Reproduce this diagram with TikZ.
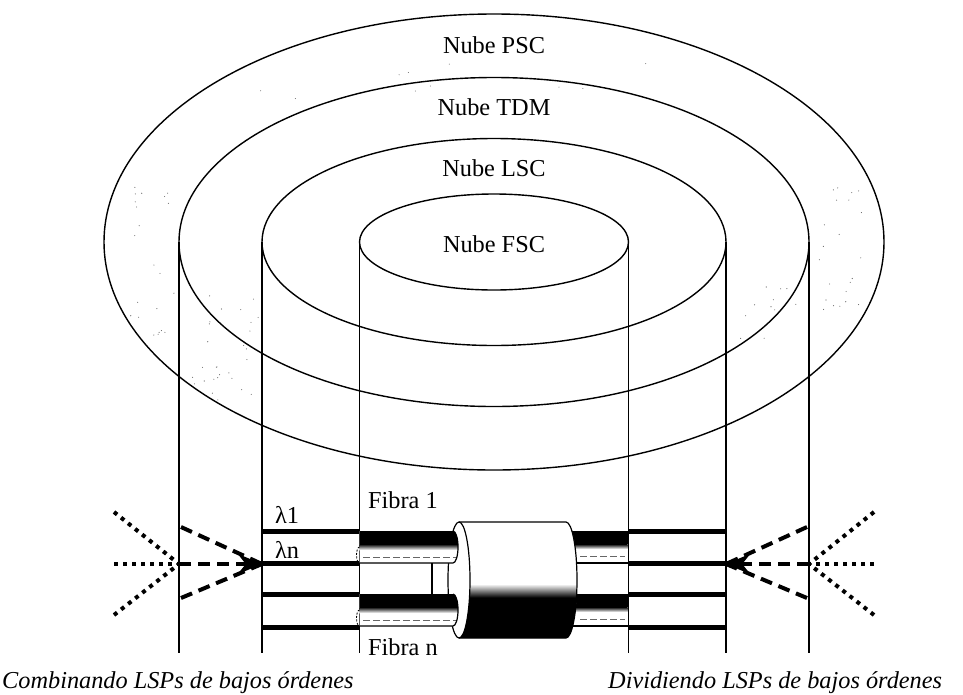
\documentclass[tikz,border=0pt]{standalone}
\usepackage{fontspec}
\setmainfont{Liberation Serif}
\usetikzlibrary{arrows.meta}

\begin{document}
\begin{tikzpicture}[x=1pt,y=-1pt,
  cloud/.style={line width=1.4pt},
  wall/.style={line width=1.8pt},
  lambdaline/.style={line width=5pt},
  edge/.style={line width=1.2pt},
  lspdash/.style={line width=4pt, dash pattern=on 12pt off 7pt},
  lspdot/.style={line width=4pt, dash pattern=on 4pt off 5pt},
  txt/.style={font=\fontsize{24.3}{28}\selectfont, inner sep=0pt},
  cloudtxt/.style={txt, anchor=base},
  tag/.style={txt, anchor=base west},
  note/.style={txt, anchor=base west, font=\fontsize{24.3}{28}\selectfont\itshape},
  speck/.style={fill=black!60},
]
\useasboundingbox (0,0) rectangle (963,694);

% common centre of the nested clouds
\coordinate (c) at (494,242);

% faint speckle inside the outer rings
\pgfmathsetseed{17}
\foreach \i in {1,...,22} {\fill[speck] ({130+45*rnd},{180+160*rnd}) circle[radius=0.55];}
\foreach \i in {1,...,28} {\fill[speck] ({190+70*rnd},{290+110*rnd}) circle[radius=0.55];}
\foreach \i in {1,...,22} {\fill[speck] ({815+50*rnd},{180+140*rnd}) circle[radius=0.55];}
\foreach \i in {1,...,12} {\fill[speck] ({740+60*rnd},{285+60*rnd}) circle[radius=0.55];}
\foreach \i in {1,...,10} {\fill[speck] ({250+400*rnd},{60+40*rnd}) circle[radius=0.5];}

% the four clouds
\draw[cloud] (c) ellipse[x radius=390, y radius=228];
\draw[cloud] (c) ellipse[x radius=315, y radius=164.5];
\draw[cloud] (c) ellipse[x radius=232, y radius=103.5];
\draw[cloud] (c) ellipse[x radius=134.5, y radius=48];

% cylinder walls of TDM, LSC and FSC
\foreach \x in {179,262,359.5,628.5,726,809}
  \draw[wall] (\x,242) -- (\x,653);

% wavelength lines on both sides
\foreach \y in {531,563,594,627} {
  \draw[lambdaline] (262,\y) -- (359.5,\y);
  \draw[lambdaline] (628.5,\y) -- (726,\y);
}

% fibre ends leaving the connector on the right
\foreach \t in {531,594} {
  \fill[white] (570,\t) rectangle (627.5,\t+32);
  \fill[black] (570,\t) rectangle (627.5,\t+13);
  \shade[top color=black, bottom color=white] (570,\t+13) rectangle (627.5,\t+18);
  \draw[black!60, line width=0.8pt, dash pattern=on 7pt off 3pt] (580,\t+25) -- (625,\t+25);
  \draw[edge] (570,\t+32) -- (627.5,\t+32);
}

% connector sleeve
\fill[white] (459,522) -- (566,522) arc[start angle=-90, end angle=90, x radius=11, y radius=58]
  -- (459,638) arc[start angle=90, end angle=270, x radius=11, y radius=58] -- cycle;
\begin{scope}
  \clip (459,522) -- (566,522) arc[start angle=-90, end angle=90, x radius=11, y radius=58]
    -- (459,638) arc[start angle=90, end angle=-90, x radius=11, y radius=58] -- cycle;
  \fill[black] (440,597) rectangle (590,645);
  \shade[top color=white, bottom color=black] (440,584) rectangle (590,597.5);
\end{scope}
\draw[edge] (459,522) -- (566,522) arc[start angle=-90, end angle=90, x radius=11, y radius=58]
  -- (459,638);
\draw[edge] (459,580) ellipse[x radius=11, y radius=58];

% fibres 1 and n entering the sleeve
\foreach \t in {531,594} {
  \begin{scope}
    \clip (359.5,\t) -- (453,\t) arc[start angle=-90, end angle=90, x radius=5, y radius=16]
      -- (359.5,\t+32) -- cycle;
    \fill[white] (350,\t-2) rectangle (465,\t+34);
    \fill[black] (350,\t-2) rectangle (465,\t+13);
    \shade[top color=black, bottom color=white] (350,\t+13) rectangle (465,\t+19);
    \draw[black!60, line width=0.8pt, dash pattern=on 7pt off 3pt] (363,\t+26) -- (458,\t+26);
  \end{scope}
  \draw[edge] (359.5,\t+32) -- (453,\t+32) arc[start angle=90, end angle=-90, x radius=5, y radius=16];
  \draw[line width=0.8pt, dash pattern=on 2pt off 1.5pt]
    (359.5,\t+16) arc[start angle=-90, end angle=-270, x radius=3, y radius=8];
}
\draw[edge] (432,563) -- (432,594);

% combining lower-order LSPs (left)
\coordinate (Lo1) at (114,512);
\coordinate (Lo2) at (114,564);
\coordinate (Lo3) at (114,615);
\coordinate (Lhub) at (179,564);
\coordinate (Ldu) at (181,527);
\coordinate (Ldd) at (181,598);
\coordinate (Ltip) at (262,564);
\draw[lspdot] (Lo1) -- (Lhub);
\draw[lspdot] (Lo2) -- (Lhub);
\draw[lspdot] (Lo3) -- (Lhub);
\draw[lspdash] (Ldu) -- (Ltip);
\draw[lspdash] (Ldd) -- (Ltip);
\draw[lspdash, -{Stealth[length=24pt, width=20pt]}] (Lhub) -- (Ltip);

% splitting lower-order LSPs (right)
\coordinate (Ro1) at (874,512);
\coordinate (Ro2) at (874,564);
\coordinate (Ro3) at (874,615);
\coordinate (Rhub) at (809,564);
\coordinate (Rdu) at (807,527);
\coordinate (Rdd) at (807,598);
\coordinate (Rtip) at (726,564);
\draw[lspdot] (Ro1) -- (Rhub);
\draw[lspdot] (Ro2) -- (Rhub);
\draw[lspdot] (Ro3) -- (Rhub);
\draw[lspdash] (Rdu) -- (Rtip);
\draw[lspdash] (Rdd) -- (Rtip);
\draw[lspdash, -{Stealth[length=24pt, width=20pt]}] (Rhub) -- (Rtip);

% labels
\node[cloudtxt] (tpsc) at (494,53) {Nube PSC};
\node[cloudtxt] (ttdm) at (494,115) {Nube TDM};
\node[cloudtxt] (tlsc) at (494,176) {Nube LSC};
\node[cloudtxt] (tfsc) at (494,252) {Nube FSC};
\node[tag] (fib1) at (368,508) {Fibra 1};
\node[tag] (fibn) at (368,655) {Fibra n};
\node[tag] (lam1) at (275,523) {λ1};
\node[tag] (lamn) at (275,558) {λn};
\node[note] (comb) at (2,688) {Combinando LSPs de bajos órdenes};
\node[note] (divi) at (608,688) {Dividiendo LSPs de bajos órdenes};
\end{tikzpicture}
\end{document}
